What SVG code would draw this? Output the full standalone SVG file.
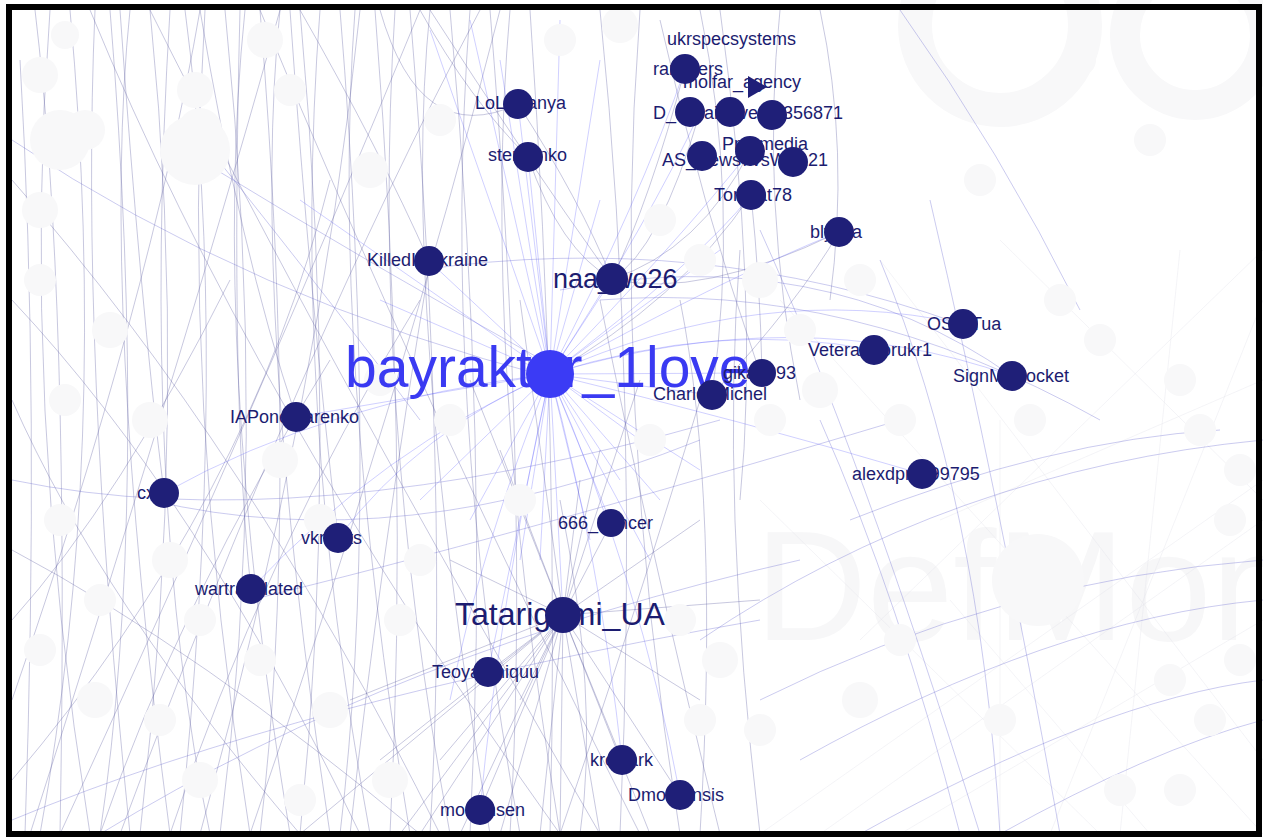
<svg xmlns="http://www.w3.org/2000/svg" width="1263" height="838" viewBox="0 0 1263 838">
<style>
.e{fill:none;stroke:#55559e;stroke-width:.55;opacity:.6}
.b{fill:none;stroke:#4d4dff;stroke-width:.6;opacity:.45}
.a{fill:none;stroke:#6a6ad0;stroke-width:.7;opacity:.5}
.f{fill:none;stroke:#e2e2ec;stroke-width:.4}
.g circle{fill:#f8f8f9}
.n{fill:#1f1f78}
.t{font-family:"Liberation Sans",Arial,sans-serif;font-size:18px;fill:#1c1c70}
</style>
<rect x="0" y="0" width="1263" height="838" fill="#ffffff"/>
<g id="background-labels" font-family="Liberation Sans, Arial, sans-serif" fill="#f7f7f8">
<text x="755" y="640" font-size="155">DefMon3</text>
<circle cx="1000" cy="25" r="85" fill="none" stroke="#f8f8f9" stroke-width="34"/>
<circle cx="1195" cy="35" r="70" fill="none" stroke="#f8f8f9" stroke-width="30"/>
</g>
<g id="connectors">
<path class="f" d="M760 834 L1263 480 M820 834 L1263 520 M900 834 L1263 620 M780 300 L1263 834 M880 260 L1263 760 M1000 240 L1263 500 M760 500 L1100 834 M1050 834 L1263 300 M1120 834 L1180 250 M940 520 L1263 380 M860 640 L1263 250 M1000 834 L1000 420 M1150 834 L950 600"/>
<path class="e" d="M20 60 Q40 400 25 834 M35 10 Q70 300 60 834 M50 10 Q20 400 90 834 M70 10 Q110 450 40 834 M95 10 Q80 350 130 834 M110 10 Q150 500 100 834 M130 10 Q100 300 170 834 M150 10 Q190 400 140 834 M170 10 Q140 500 210 834 M185 10 Q230 350 180 834 M205 10 Q180 400 250 834 M225 10 Q270 450 220 834 M245 10 Q210 350 290 834 M260 10 Q300 500 260 834 M280 10 Q250 300 330 834 M300 10 Q340 450 300 834 M320 10 Q290 400 370 834 M340 10 Q380 500 340 834 M355 10 Q330 350 410 834 M375 10 Q410 450 390 834 M395 10 Q370 400 450 834 M410 10 Q450 500 430 834 M430 10 Q400 300 490 834 M450 10 Q490 450 470 834 M470 10 Q440 400 520 834 M490 10 Q530 500 510 834 M510 10 Q480 350 560 834 M530 10 Q560 450 550 834"/>
<path class="e" d="M30 834 Q200 300 280 10 M12 700 Q150 300 200 10 M60 834 Q260 400 420 10 M120 834 Q300 350 480 10 M200 834 Q320 400 360 10 M250 834 Q400 400 500 10 M12 300 Q200 500 360 834 M12 180 Q250 450 440 834 M90 10 Q250 400 560 834 M150 10 Q320 350 600 834 M260 10 Q420 400 640 834 M12 400 Q100 600 300 834 M12 550 Q200 650 420 834 M600 10 Q640 400 620 834 M640 10 Q610 400 680 834 M680 300 Q720 500 700 834 M740 250 Q720 500 760 834 M720 10 Q760 300 740 500 M780 10 Q760 200 800 400 M820 10 Q850 150 830 300 M600 300 Q650 550 720 834 M560 500 Q600 700 580 834 M700 400 Q640 600 560 834 M12 620 Q120 500 230 280 M12 780 Q250 500 330 180 M100 834 Q180 600 330 360 M170 834 Q260 560 420 300 M350 834 Q380 560 430 261 M380 10 Q420 150 518 104 M420 10 Q470 100 528 157 M300 10 Q380 150 429 261 M200 10 Q240 250 296 417 M120 10 Q140 300 164 493 M240 10 Q230 400 251 589 M290 10 Q310 300 338 538"/>
<path class="e" d="M685 69 Q650 200 612 279 M700 112 Q660 250 612 279 M750 151 Q700 250 612 279 M751 195 Q680 300 550 374 M839 232 Q700 300 612 279 M660 20 Q700 200 760 373 M700 10 Q740 200 712 395 M751 195 Q760 280 762 373 M839 232 Q800 300 712 395 M528 157 Q560 250 612 279 M518 104 Q580 200 612 279 M430 10 Q520 150 612 279"/>
<path class="b" d="M550 374 L430 30 M550 374 L470 20 M550 374 L500 60 M550 374 L518 104 M550 374 L528 157 M550 374 L560 20 M550 374 L600 60 M550 374 L612 279 M550 374 Q640 200 685 69 M550 374 Q650 220 700 112 M550 374 Q680 240 750 151 M550 374 Q700 260 751 195 M550 374 Q720 280 839 232 M550 374 Q720 320 874 350 M550 374 Q760 280 963 324 M550 374 Q800 300 1012 376 M550 374 Q740 420 922 474 M550 374 L762 373 M550 374 L712 395 M550 374 L611 523 M550 374 L563 615 M550 374 L488 672 M550 374 Q600 560 622 760 M550 374 Q640 580 680 795 M550 374 Q500 600 480 810 M550 374 Q420 430 338 538 M550 374 L296 417 M550 374 Q330 400 164 493 M550 374 Q380 450 251 589 M550 374 L429 261 M550 374 L700 470 M550 374 L650 560 M550 374 L520 560 M550 374 L420 500 M550 374 L380 300 M550 374 L300 200 M550 374 L640 440 M550 374 L720 250 M550 374 L600 200 M550 374 Q480 550 450 700 M550 374 L590 540 M550 374 L470 520 M550 374 L660 500 M550 374 L540 560 M550 374 L620 480"/>
<path class="e" d="M563 615 L480 810 M563 615 L622 760 M563 615 L680 795 M563 615 L500 834 M563 615 L540 834 M563 615 L600 834 M563 615 L650 834 M563 615 L420 834 M563 615 L380 760 M563 615 L488 672 M563 615 L611 523 M563 615 L520 300 M563 615 L600 450 M563 615 L700 520 M563 615 L760 600 M563 615 L450 560 M563 615 L350 700 M563 615 L300 834 M563 615 L700 700 M563 615 L460 834 M563 615 L560 834 M563 615 L400 834 M563 615 L440 760 M563 615 L520 700 M563 615 L580 480 M563 615 L500 450 M563 615 L470 380 M563 615 L640 380"/>
<path class="a" d="M12 140 Q250 300 560 380 M200 160 Q380 270 560 370 M12 480 Q300 540 720 420 M150 500 Q400 560 700 440 M560 290 Q820 240 1012 376 M600 300 Q850 280 1100 420 M420 270 Q700 230 960 324 M250 600 Q500 540 900 420 M760 700 Q1000 580 1263 560 M800 760 Q1050 620 1263 600 M860 834 Q1100 700 1263 680 M1000 834 Q1150 750 1263 720 M700 640 Q950 470 1263 440 M850 520 Q1050 440 1220 430 M930 200 Q1000 500 1060 834 M880 260 Q980 500 1000 834 M760 230 Q860 450 980 834 M820 420 Q900 600 960 834 M900 10 Q1000 150 1080 310 M12 820 Q300 700 760 620 M100 834 Q400 650 800 560 M210 150 Q330 300 420 420"/>
</g>
<g id="faint-nodes" class="g">
<circle cx="40" cy="75" r="18"/><circle cx="65" cy="35" r="14"/><circle cx="200" cy="130" r="22"/><circle cx="195" cy="90" r="18"/><circle cx="85" cy="130" r="20"/><circle cx="40" cy="210" r="18"/><circle cx="40" cy="280" r="16"/><circle cx="110" cy="330" r="18"/><circle cx="65" cy="400" r="16"/><circle cx="150" cy="420" r="18"/><circle cx="60" cy="520" r="16"/><circle cx="170" cy="560" r="18"/><circle cx="100" cy="600" r="16"/><circle cx="200" cy="620" r="16"/><circle cx="40" cy="650" r="16"/><circle cx="95" cy="700" r="18"/><circle cx="160" cy="720" r="16"/><circle cx="280" cy="460" r="18"/><circle cx="320" cy="520" r="16"/><circle cx="260" cy="660" r="16"/><circle cx="330" cy="710" r="18"/><circle cx="400" cy="620" r="16"/><circle cx="420" cy="560" r="16"/><circle cx="390" cy="780" r="18"/><circle cx="300" cy="800" r="16"/><circle cx="200" cy="780" r="18"/><circle cx="620" cy="25" r="18"/><circle cx="560" cy="40" r="16"/><circle cx="440" cy="120" r="16"/><circle cx="370" cy="170" r="18"/><circle cx="290" cy="90" r="16"/><circle cx="265" cy="40" r="18"/><circle cx="660" cy="220" r="16"/><circle cx="700" cy="260" r="16"/><circle cx="760" cy="280" r="18"/><circle cx="800" cy="330" r="16"/><circle cx="820" cy="390" r="18"/><circle cx="770" cy="420" r="16"/><circle cx="650" cy="440" r="16"/><circle cx="680" cy="620" r="16"/><circle cx="720" cy="660" r="18"/><circle cx="760" cy="730" r="16"/><circle cx="700" cy="720" r="16"/><circle cx="860" cy="700" r="18"/><circle cx="860" cy="280" r="16"/><circle cx="1060" cy="300" r="16"/><circle cx="1100" cy="340" r="16"/><circle cx="1180" cy="380" r="16"/><circle cx="1200" cy="430" r="16"/><circle cx="1240" cy="470" r="16"/><circle cx="1230" cy="520" r="16"/><circle cx="1240" cy="660" r="16"/><circle cx="1170" cy="680" r="16"/><circle cx="1210" cy="720" r="16"/><circle cx="1180" cy="790" r="16"/><circle cx="1120" cy="790" r="16"/><circle cx="1000" cy="720" r="16"/><circle cx="900" cy="640" r="16"/><circle cx="520" cy="500" r="16"/><circle cx="450" cy="420" r="16"/><circle cx="380" cy="380" r="16"/><circle cx="900" cy="420" r="16"/><circle cx="1030" cy="420" r="16"/><circle cx="980" cy="180" r="16"/><circle cx="1080" cy="60" r="16"/><circle cx="1150" cy="140" r="16"/><circle cx="1038" cy="580" r="46"/><circle cx="195" cy="150" r="35"/><circle cx="60" cy="140" r="30"/>
</g>
<g id="labels">
<text class="t" x="667" y="45">ukrspecsystems</text>
<text class="t" x="653" y="75">ramblers</text>
<text class="t" x="683" y="88">molfar_agency</text>
<text class="t" x="653" y="119">D_Ukraine</text>
<text class="t" x="843" y="119" text-anchor="end">vers9356871</text>
<text class="t" x="722" y="150">Provmedia</text>
<text class="t" x="662" y="166">AS_News</text>
<text class="t" x="828" y="166" text-anchor="end">kvsWA121</text>
<text class="t" x="714" y="201">Tomcat78</text>
<text class="t" x="810" y="238">blyaka</text>
<text class="t" x="475" y="109">LoLoKanya</text>
<text class="t" x="488" y="161">sternenko</text>
<text class="t" x="367" y="266">KilledInUkraine</text>
<text class="t" x="553" y="288" style="font-size:27px">naa_wo26</text>
<text class="t" x="345" y="387" style="font-size:57px;fill:#3a3af2">bayraktar_1love</text>
<text class="t" x="723" y="379">gika1993</text>
<text class="t" x="653" y="400">CharlesMichel</text>
<text class="t" x="808" y="356">VeteranForukr1</text>
<text class="t" x="927" y="330">OSINTua</text>
<text class="t" x="953" y="382">SignMyRocket</text>
<text class="t" x="852" y="480">alexdpr1199795</text>
<text class="t" x="230" y="423">IAPonomarenko</text>
<text class="t" x="137" y="499">cxviu</text>
<text class="t" x="301" y="544">vkrzlets</text>
<text class="t" x="195" y="595">wartranslated</text>
<text class="t" x="558" y="529">666_dancer</text>
<text class="t" x="455" y="625" style="font-size:32px">Tatarigami_UA</text>
<text class="t" x="432" y="678">Teoyamniquu</text>
<text class="t" x="590" y="766">krowark</text>
<text class="t" x="628" y="801">Dmohrensis</text>
<text class="t" x="440" y="816">mortensen</text>
</g>
<g id="node-ramblers"><circle class="n" cx="685" cy="69" r="15"/></g>
<g id="node-molfar_agency"><polygon class="n" points="748,76 767,87 748,98"/></g>
<g id="node-d1"><circle class="n" cx="690" cy="112" r="15"/></g>
<g id="node-d2"><circle class="n" cx="730" cy="112" r="15"/></g>
<g id="node-d3"><circle class="n" cx="772" cy="115" r="15"/></g>
<g id="node-as"><circle class="n" cx="702" cy="156" r="15"/></g>
<g id="node-prov"><circle class="n" cx="750" cy="151" r="15"/></g>
<g id="node-wa"><circle class="n" cx="793" cy="162" r="15"/></g>
<g id="node-tom"><circle class="n" cx="751" cy="195" r="15"/></g>
<g id="node-blyaka"><circle class="n" cx="839" cy="232" r="15"/></g>
<g id="node-lolo"><circle class="n" cx="518" cy="104" r="15"/></g>
<g id="node-sternenko"><circle class="n" cx="528" cy="157" r="15"/></g>
<g id="node-killed"><circle class="n" cx="429" cy="261" r="15"/></g>
<g id="node-naa"><circle class="n" cx="612" cy="279" r="16"/></g>
<g id="node-bayraktar"><circle cx="550" cy="374" r="24" fill="#3b3bf5"/></g>
<g id="node-gika"><circle class="n" cx="762" cy="373" r="14"/></g>
<g id="node-charles"><circle class="n" cx="712" cy="395" r="15"/></g>
<g id="node-veteran"><circle class="n" cx="874" cy="350" r="15"/></g>
<g id="node-osint"><circle class="n" cx="963" cy="324" r="15"/></g>
<g id="node-signmy"><circle class="n" cx="1012" cy="376" r="15"/></g>
<g id="node-alexdp"><circle class="n" cx="922" cy="474" r="15"/></g>
<g id="node-iap"><circle class="n" cx="296" cy="417" r="15"/></g>
<g id="node-cx"><circle class="n" cx="164" cy="493" r="15"/></g>
<g id="node-vkr"><circle class="n" cx="338" cy="538" r="15"/></g>
<g id="node-wartr"><circle class="n" cx="251" cy="589" r="15"/></g>
<g id="node-666"><circle class="n" cx="611" cy="523" r="14"/></g>
<g id="node-tatarigami"><circle class="n" cx="563" cy="615" r="18"/></g>
<g id="node-teoya"><circle class="n" cx="488" cy="672" r="15"/></g>
<g id="node-kro"><circle class="n" cx="622" cy="760" r="15"/></g>
<g id="node-dmo"><circle class="n" cx="680" cy="795" r="15"/></g>
<g id="node-mo"><circle class="n" cx="480" cy="810" r="15"/></g>
<rect id="frame" x="9" y="7" width="1250" height="827" fill="none" stroke="#000" stroke-width="6"/>
</svg>
